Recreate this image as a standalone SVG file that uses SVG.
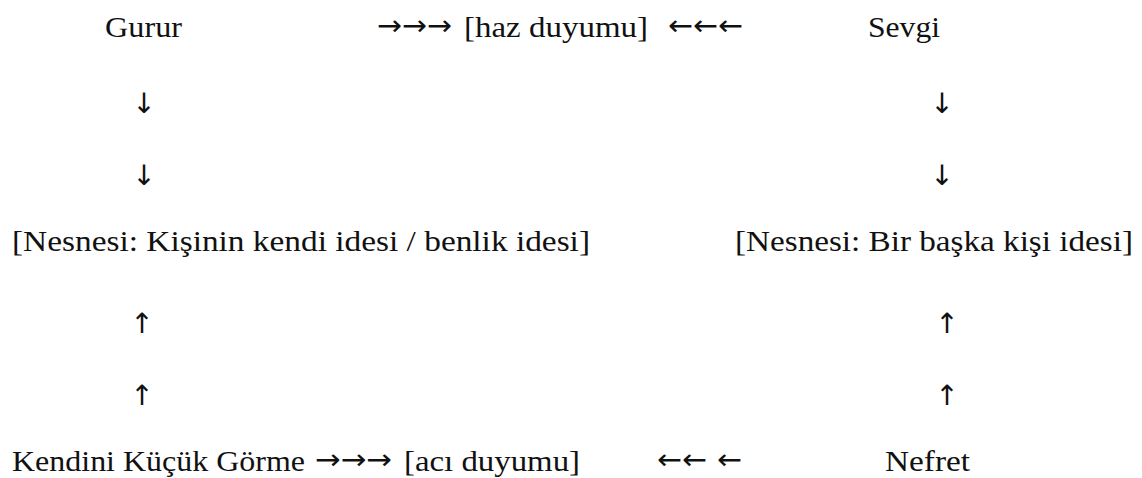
<svg xmlns="http://www.w3.org/2000/svg" width="1142" height="478" viewBox="0 0 1142 478">
<style>
text{font-family:"Liberation Serif","DejaVu Serif",serif;font-size:30px;fill:#111}
.ar{font-family:"DejaVu Sans","Liberation Sans",sans-serif;font-size:28px}
.v{text-anchor:middle}
</style>
<rect width="1142" height="478" fill="#fff"/>
<g id="gurur"><text x="105" y="37" textLength="77" lengthAdjust="spacingAndGlyphs">Gurur</text></g>
<g id="haz"><text x="464" y="37" textLength="184" lengthAdjust="spacingAndGlyphs">[haz duyumu]</text></g>
<g id="sevgi"><text x="868" y="37" textLength="72" lengthAdjust="spacingAndGlyphs">Sevgi</text></g>
<g id="kendi-idesi"><text x="12" y="251" textLength="578" lengthAdjust="spacingAndGlyphs">[Nesnesi: Kişinin kendi idesi / benlik idesi]</text></g>
<g id="baska-idesi"><text x="735" y="251" textLength="398" lengthAdjust="spacingAndGlyphs">[Nesnesi: Bir başka kişi idesi]</text></g>
<g id="kendini"><text x="12" y="471" textLength="293" lengthAdjust="spacingAndGlyphs">Kendini Küçük Görme</text></g>
<g id="aci"><text x="404" y="471" textLength="176" lengthAdjust="spacingAndGlyphs">[acı duyumu]</text></g>
<g id="nefret"><text x="885" y="471" textLength="85" lengthAdjust="spacingAndGlyphs">Nefret</text></g>
<g id="connectors">
<text class="ar" x="377" y="35" textLength="75" lengthAdjust="spacingAndGlyphs">→→→</text>
<text class="ar" x="668" y="35" textLength="75" lengthAdjust="spacingAndGlyphs">←←←</text>
<text class="ar v" x="144" y="113">↓</text>
<text class="ar v" x="144" y="185">↓</text>
<text class="ar v" x="942" y="113">↓</text>
<text class="ar v" x="942" y="185">↓</text>
<text class="ar v" x="142" y="333">↑</text>
<text class="ar v" x="142" y="405">↑</text>
<text class="ar v" x="947" y="333">↑</text>
<text class="ar v" x="947" y="405">↑</text>
<text class="ar" x="315" y="469" textLength="77" lengthAdjust="spacingAndGlyphs">→→→</text>
<text class="ar" x="657" y="469" textLength="50" lengthAdjust="spacingAndGlyphs">←←</text>
<text class="ar" x="717" y="469" textLength="25" lengthAdjust="spacingAndGlyphs">←</text>
</g>
</svg>
